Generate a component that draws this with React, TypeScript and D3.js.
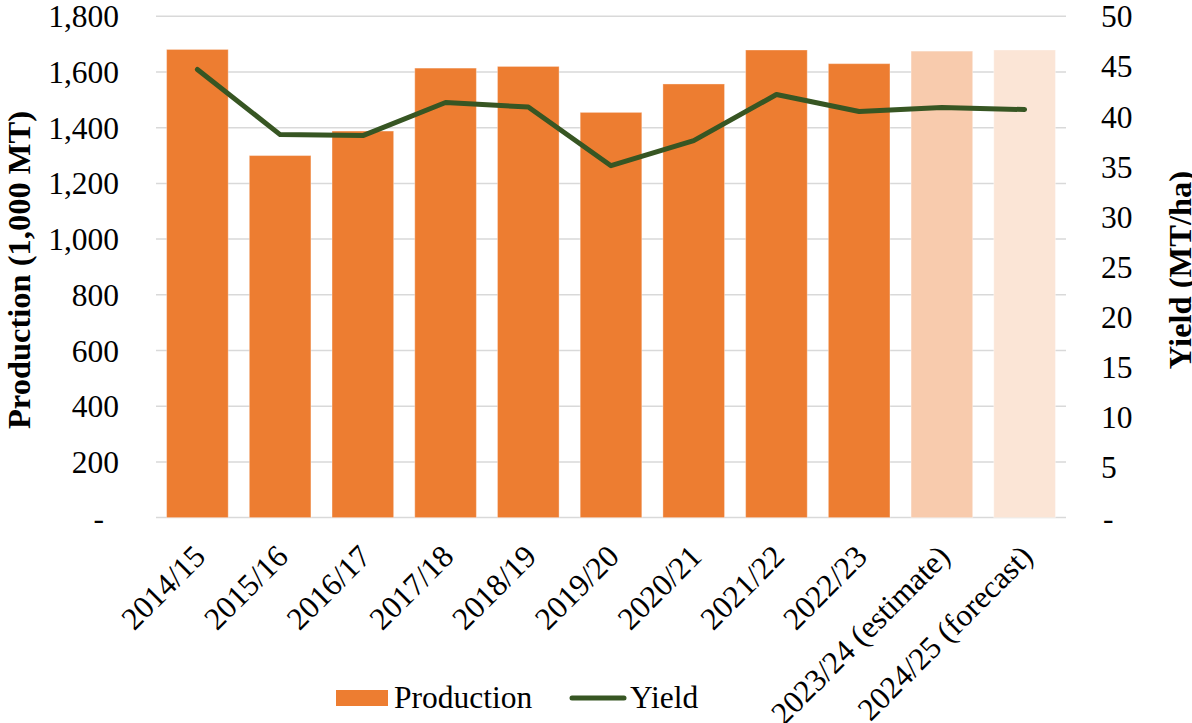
import React from "react";
import * as d3 from "d3";

const categories = [
  "2014/15", "2015/16", "2016/17", "2017/18", "2018/19", "2019/20",
  "2020/21", "2021/22", "2022/23", "2023/24 (estimate)", "2024/25 (forecast)",
];
const production = [1681, 1300, 1388, 1614, 1620, 1455, 1557, 1679, 1630, 1675, 1679];
const yieldValues = [44.7, 38.2, 38.1, 41.4, 40.95, 35.1, 37.6, 42.2, 40.5, 40.9, 40.7];
const barColors = ["#ED7D31", "#ED7D31", "#ED7D31", "#ED7D31", "#ED7D31", "#ED7D31", "#ED7D31", "#ED7D31", "#ED7D31", "#F8CBAD", "#FBE5D6"];
const leftTicks = [0, 200, 400, 600, 800, 1000, 1200, 1400, 1600, 1800];
const rightTicks = [0, 5, 10, 15, 20, 25, 30, 35, 40, 45, 50];

const W = 1192, H = 723;
const plot = { left: 156, right: 1066, top: 16.3, bottom: 517.6 };
const FONT = "'Liberation Serif', 'Times New Roman', serif";
const FS = 31.5;

export default function App() {
  const x = d3.scaleBand<string>().domain(categories).range([plot.left, plot.right]).paddingInner(0.255).paddingOuter(0.128);
  const yL = d3.scaleLinear().domain([0, 1800]).range([plot.bottom, plot.top]);
  const yR = d3.scaleLinear().domain([0, 50]).range([plot.bottom, plot.top]);
  const fmt = d3.format(",");
  const line = d3.line<number>()
    .x((_, i) => (x(categories[i]) as number) + x.bandwidth() / 2)
    .y((d) => yR(d));
  const midY = 270;

  return (
    <svg width={W} height={H} style={{ position: "absolute", left: 0, top: 0, background: "#fff" }} fontFamily={FONT}>
      {leftTicks.map((t) => (
        <line key={"g" + t} x1={plot.left} x2={plot.right} y1={yL(t)} y2={yL(t)} stroke="#D9D9D9" strokeWidth={1.5} />
      ))}
      {production.map((v, i) => (
        <rect key={"b" + i} x={x(categories[i])} y={yL(v)} width={x.bandwidth()} height={yL(0) - yL(v)}
          fill={barColors[i]} stroke="#fff" strokeOpacity={0.35} strokeWidth={1} />
      ))}
      <path d={line(yieldValues) || ""} fill="none" stroke="#375623" strokeWidth={5} strokeLinejoin="round" strokeLinecap="round" />
      {leftTicks.map((t) => (
        <text key={"l" + t} x={t === 0 ? 104 : 119} y={yL(t)} dy="0.35em" textAnchor="end" fontSize={FS} fill="#000">
          {t === 0 ? "-" : fmt(t)}
        </text>
      ))}
      {rightTicks.map((t) => (
        <text key={"r" + t} x={t === 0 ? 1103 : 1101} y={yR(t)} dy="0.35em" textAnchor="start" fontSize={FS} fill="#000">
          {t === 0 ? "-" : fmt(t)}
        </text>
      ))}
      {categories.map((c) => {
        const cx = (x(c) as number) + x.bandwidth() / 2;
        return (
          <text key={"c" + c} transform={`translate(${cx + 2},${plot.bottom + 33}) rotate(-45)`} textAnchor="end" dy="0.35em" fontSize={FS} fill="#000">
            {c}
          </text>
        );
      })}
      <text transform={`translate(30,${midY}) rotate(-90)`} textAnchor="middle" fontSize={32.5} fontWeight="bold" fill="#000">
        Production (1,000 MT)
      </text>
      <text transform={`translate(1191,${midY}) rotate(-90)`} textAnchor="middle" fontSize={32.5} fontWeight="bold" fill="#000">
        Yield (MT/ha)
      </text>
      <rect x={336} y={690} width={52} height={16} fill="#ED7D31" />
      <text x={394} y={708} fontSize={FS} fill="#000">Production</text>
      <line x1={572} x2={624} y1={698} y2={698} stroke="#375623" strokeWidth={5} strokeLinecap="round" />
      <text x={630} y={708} fontSize={FS} fill="#000">Yield</text>
    </svg>
  );
}
